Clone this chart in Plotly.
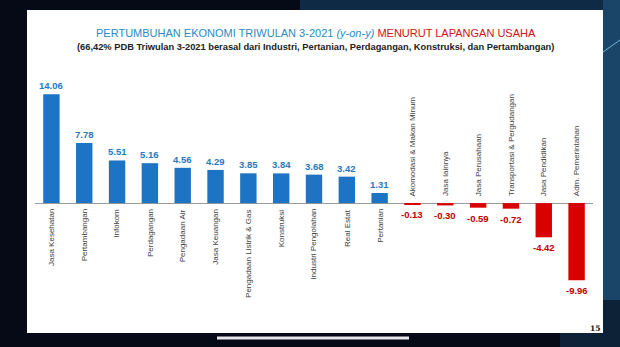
import plotly.graph_objects as go

categories = ["Jasa Kesehatan", "Pertambangan", "Infokom", "Perdagangan", "Pengadaan Air",
              "Jasa Keuangan", "Pengadaan Listrik & Gas", "Konstruksi", "Industri Pengolahan",
              "Real Estat", "Pertanian", "Akomodasi & Makan Minum", "Jasa lainnya",
              "Jasa Perusahaan", "Transportasi & Pergudangan", "Jasa Pendidikan",
              "Adm. Pemerintahan"]
values = [14.06, 7.78, 5.51, 5.16, 4.56, 4.29, 3.85, 3.84, 3.68, 3.42, 1.31,
          -0.13, -0.30, -0.59, -0.72, -4.42, -9.96]
value_labels = ["14.06", "7.78", "5.51", "5.16", "4.56", "4.29", "3.85", "3.84", "3.68",
                "3.42", "1.31", "-0.13", "-0.30", "-0.59", "-0.72", "-4.42", "-9.96"]

W, H = 620, 347
ML, MR, MT, MB = 35, 27, 87, 51
PW, PH = W - ML - MR, H - MT - MB

def px(x):
    return (x - ML) / PW

def py(y):
    return (H - MB - y) / PH

BLUE = "#1E74C4"
BLUE_TXT = "#2A78BE"
RED = "#D90000"
RED_TXT = "#C00000"
FONT = "Liberation Sans, Arial, sans-serif"

colors = [BLUE if v >= 0 else RED for v in values]

fig = go.Figure()
fig.add_trace(go.Bar(x=categories, y=values, marker=dict(color=colors, line=dict(width=0)),
                     width=0.5, hoverinfo="skip"))

annotations = []
for c, v, t in zip(categories, values, value_labels):
    pos = v >= 0
    annotations.append(dict(x=c, y=v, xref="x", yref="y", text="<b>" + t + "</b>",
                            showarrow=False, yanchor="bottom" if pos else "top",
                            yshift=1 if pos else -3,
                            font=dict(family=FONT, size=9.5,
                                      color=BLUE_TXT if pos else RED_TXT)))
    annotations.append(dict(x=c, y=0, xref="x", yref="y", text=c, textangle=-90,
                            showarrow=False, yanchor="top" if pos else "bottom",
                            yshift=-4 if pos else 5,
                            font=dict(family=FONT, size=8, color="#404040")))

annotations.append(dict(
    x=px(316), y=py(33), xref="paper", yref="paper", showarrow=False,
    text="<span style='color:#2C8AC4'>PERTUMBUHAN EKONOMI TRIWULAN 3-2021 <i>(y-on-y)</i></span>"
         " <span style='color:#D0101A'>MENURUT LAPANGAN USAHA</span>",
    font=dict(family=FONT, size=11, color="#2C8AC4"), xanchor="center", yanchor="middle"))
annotations.append(dict(
    x=px(315), y=py(47), xref="paper", yref="paper", showarrow=False,
    text="<b>(66,42% PDB Triwulan 3-2021 berasal dari Industri, Pertanian, Perdagangan, "
         "Konstruksi, dan Pertambangan)</b>",
    font=dict(family=FONT, size=9.3, color="#222222"), xanchor="center", yanchor="middle"))
annotations.append(dict(
    x=px(595), y=py(328), xref="paper", yref="paper", showarrow=False,
    text="<b>15</b>", font=dict(family="DejaVu Serif, serif", size=7.5, color="#111111"),
    xanchor="center", yanchor="middle"))

shapes = [
    # background tints
    dict(type="rect", xref="paper", yref="paper", x0=px(560), x1=px(620), y0=py(0), y1=py(347),
         fillcolor="#0d2236", line=dict(width=0), layer="below"),
    dict(type="rect", xref="paper", yref="paper", x0=px(603), x1=px(620), y0=py(0), y1=py(300),
         fillcolor="#1a4468", line=dict(width=0), layer="below"),
    dict(type="rect", xref="paper", yref="paper", x0=px(300), x1=px(603), y0=py(0), y1=py(10),
         fillcolor="#0f2a44", line=dict(width=0), layer="below"),
    dict(type="line", xref="paper", yref="paper", x0=px(603), x1=px(620), y0=py(52), y1=py(40),
         line=dict(color="#6fb6dc", width=1), layer="below"),
    # slide
    dict(type="rect", xref="paper", yref="paper", x0=px(27), x1=px(603), y0=py(10), y1=py(333),
         fillcolor="#ffffff", line=dict(width=0), layer="below"),
    # scrollbar
    dict(type="rect", xref="paper", yref="paper", x0=px(217), x1=px(409), y0=py(336.5), y1=py(339.5),
         fillcolor="#e8e8e8", line=dict(width=0), layer="below"),
]

fig.update_layout(
    width=W, height=H, margin=dict(l=ML, r=MR, t=MT, b=MB),
    paper_bgcolor="#050a16", plot_bgcolor="rgba(0,0,0,0)",
    showlegend=False, bargap=0.5,
    xaxis=dict(visible=False, range=[-0.5, len(categories) - 0.5]),
    yaxis=dict(visible=True, range=[-12, 15], showgrid=False, showticklabels=False,
               zeroline=True, zerolinecolor="#9a9a9a", zerolinewidth=1, ticks=""),
    annotations=annotations, shapes=shapes,
)

fig.write_html("out.html")
